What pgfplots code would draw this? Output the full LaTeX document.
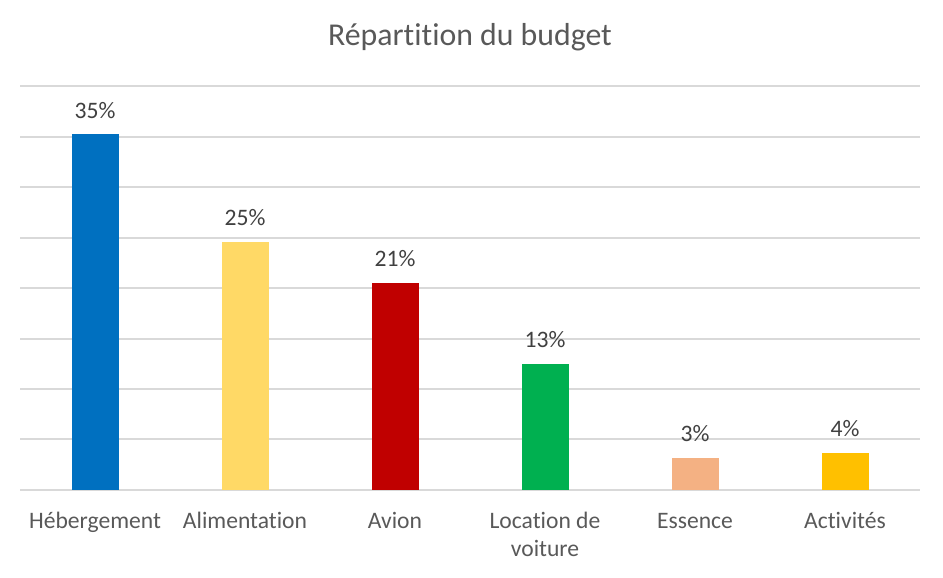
\documentclass[border=0pt]{standalone}
\usepackage{pgfplots}
\pgfplotsset{compat=1.18}
\usepackage{fontspec}
\setmainfont{Carlito}[Ligatures=NoCommon]
\definecolor{cBlue}{HTML}{0070C0}
\definecolor{cYellow}{HTML}{FFD966}
\definecolor{cRed}{HTML}{C00000}
\definecolor{cGreen}{HTML}{00B050}
\definecolor{cPeach}{HTML}{F4B183}
\definecolor{cGold}{HTML}{FFC000}
\definecolor{gridc}{HTML}{D9D9D9}
\definecolor{txt}{HTML}{595959}
\definecolor{lbl}{HTML}{404040}
\begin{document}
\begin{tikzpicture}
\begin{axis}[
  scale only axis,
  width=450pt, height=202pt,
  xmin=-0.5, xmax=5.5,
  ymin=0, ymax=40,
  ytick={0,5,...,40},
  yticklabels={},
  ymajorgrids,
  grid style={gridc, line width=1pt},
  axis line style={draw=none},
  major tick length=0pt,
  xtick={0,...,5},
  xticklabels={\strut Hébergement,\strut Alimentation,\strut Avion,{\strut Location de\\voiture},\strut Essence,\strut Activités},
  xticklabel style={font=\fontsize{11.8}{14}\selectfont, text=txt, align=center, yshift=-6pt},
  ybar, bar width=23.5pt, bar shift=0pt,
  clip=false,
  nodes near coords,
  point meta=explicit symbolic,
  every node near coord/.append style={font=\fontsize{11.8}{14}\selectfont, text=lbl, yshift=4.5pt},
]
\addplot[fill=cBlue, draw=none] coordinates {(0,35.2) [35\%]};
\addplot[fill=cYellow, draw=none] coordinates {(1,24.6) [25\%]};
\addplot[fill=cRed, draw=none] coordinates {(2,20.5) [21\%]};
\addplot[fill=cGreen, draw=none] coordinates {(3,12.5) [13\%]};
\addplot[fill=cPeach, draw=none] coordinates {(4,3.2) [3\%]};
\addplot[fill=cGold, draw=none] coordinates {(5,3.7) [4\%]};
\node[font=\fontsize{15.9}{18}\selectfont, text=txt] at (rel axis cs:0.5,1.12) {Répartition du budget};
\end{axis}
\pgfresetboundingbox
\path (-10pt,-44pt) rectangle (461.5pt,245pt);
\end{tikzpicture}
\end{document}
